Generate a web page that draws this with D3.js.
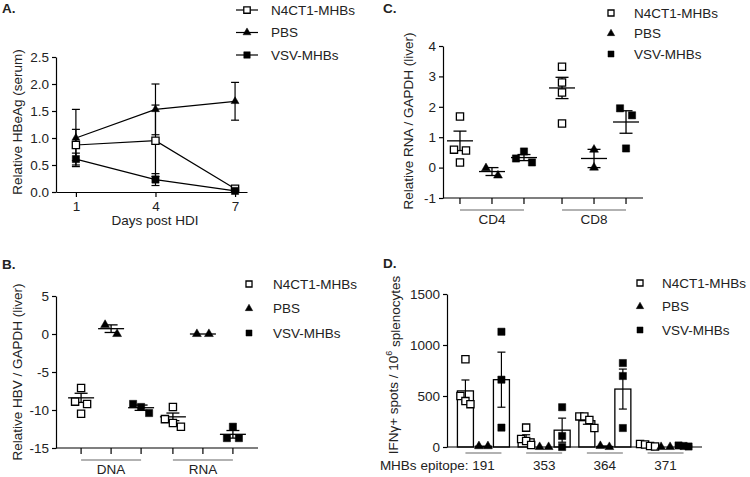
<!DOCTYPE html>
<html>
<head>
<meta charset="utf-8">
<script src="https://cdn.jsdelivr.net/npm/d3@7"></script>
<style>
body { margin: 0; background: #fff; }
text { font-family: "Liberation Sans", Arial, sans-serif; fill: #222; }
</style>
</head>
<body>
<svg id="fig" width="750" height="477"></svg>
<script>
var seriesNames = ["N4CT1-MHBs", "PBS", "VSV-MHBs"];

// A. serum HBeAg over time (mean, sem)
var hbeagDays = [1, 4, 7];
var hbeagN4ct1 = [0.87, 0.95, 0.06], hbeagN4ct1Sem = [0.29, 0.66, 0.03];
var hbeagPbs = [1.0, 1.53, 1.68], hbeagPbsSem = [0.53, 0.47, 0.35];
var hbeagVsv = [0.61, 0.23, 0.02], hbeagVsvSem = [0.11, 0.11, 0.02];
var hbeagTicks = [0, 0.5, 1.0, 1.5, 2.0, 2.5];

// B. liver HBV DNA / RNA
var hbvGroups = ["DNA", "RNA"];
var hbvN4ct1 = [[-7.1, -8.9, -9.2, -10.5], [-9.6, -11.2, -11.7, -12.2]];
var hbvPbs = [[1.2, 0.0], [0, 0]];
var hbvVsv = [[-9.2, -9.6, -10.4], [-12.2, -13.7, -13.7]];
var hbvMean = [[-8.4, -10.9], [0.7, 0], [-9.7, -13.2]];
var hbvSem = [[0.6, 0.5], [0.5, 0], [0.35, 0.5]];
var hbvTicks = [5, 0, -5, -10, -15];

// C. liver CD4 / CD8 RNA
var rnaGroups = ["CD4", "CD8"];
var rnaN4ct1 = [[1.68, 0.59, 0.56, 0.17], [3.32, 2.8, 2.47, 1.45]];
var rnaPbs = [[-0.02, -0.26], [0.59, 0.0]];
var rnaVsv = [[0.3, 0.53, 0.17], [1.95, 1.72, 0.63]];
var rnaMean = [[0.88, 2.62], [-0.13, 0.3], [0.33, 1.5]];
var rnaSem = [[0.32, 0.35], [0.13, 0.3], [0.1, 0.37]];
var rnaTicks = [-1, 0, 1, 2, 3, 4];

// D. IFNg ELISpot per epitope
var epitopes = ["191", "353", "364", "371"];
var ifnN4ct1 = [[860, 500, 450, 420], [190, 78, 59, 20], [300, 300, 265, 186], [30, 25, 10, 5]];
var ifnPbs = [[8, 8], [0, 0], [10, 0], [0, 0]];
var ifnVsv = [[1130, 660, 190], [390, 108, 0], [823, 696, 186], [15, 10, 5]];
var ifnMean = [[550, 80, 258, 18], [8, 0, 5, 0], [660, 165, 568, 10]];
var ifnSem = [[107, 40, 35, 6], [0, 0, 5, 0], [270, 118, 196, 3]];
var ifnTicks = [0, 500, 1000, 1500];

var svg = d3.select("#fig");
var FS = 13.5;
var hyphen = function(f) { return function(v) { return f(v).replace("\u2212", "-"); }; };

function sym(k, scale) {
    var area = [52, 34, 52][k] * (scale || 1);
    return d3.symbol().type(k === 1 ? d3.symbolTriangle : d3.symbolSquare).size(area)();
}
function marker(g, k, x, y, scale) {
    g.append("path")
        .attr("transform", "translate(" + x + "," + y + ")")
        .attr("d", sym(k, scale))
        .attr("fill", k === 0 ? "#fff" : "#000")
        .attr("stroke", "#000")
        .attr("stroke-width", k === 0 ? 1.3 : 0.5);
}

// spread points that overlap vertically, like a column scatter
function swarm(vals, y, step2, stepN, thr) {
    var idx = vals.map(function(v, i) { return i; })
        .sort(function(a, b) { return y(vals[a]) - y(vals[b]); });
    var clusters = [], cur = [idx[0]];
    for (var i = 1; i < idx.length; i++) {
        if (y(vals[idx[i]]) - y(vals[idx[i - 1]]) < thr) cur.push(idx[i]);
        else { clusters.push(cur); cur = [idx[i]]; }
    }
    clusters.push(cur);
    var off = vals.map(function() { return 0; });
    clusters.forEach(function(c) {
        var step = c.length === 2 ? step2 : stepN;
        c.sort(function(a, b) { return a - b; });
        c.forEach(function(i, j) { off[i] = (j - (c.length - 1) / 2) * step; });
    });
    return off;
}

function yAxis(g, y, x0, ticks, fmt) {
    var ax = g.append("g").attr("transform", "translate(" + x0 + ",0)")
        .call(d3.axisLeft(y).tickValues(ticks).tickFormat(fmt).tickSize(4).tickPadding(3).tickSizeOuter(0));
    ax.selectAll("text").attr("font-size", FS);
    ax.selectAll("path,line").attr("stroke", "#000").attr("stroke-width", 1.2);
    return ax;
}

function yLabel(x, y, txt) {
    return svg.append("text").attr("transform", "translate(" + x + "," + y + ") rotate(-90)")
        .attr("text-anchor", "middle").attr("dy", "0.35em").attr("font-size", FS).text(txt);
}

function panelLetter(x, y, t) {
    svg.append("text").attr("x", x).attr("y", y).attr("font-size", 13.5)
        .attr("font-weight", "bold").text(t);
}

function legend(x, y0, dy, tx, withLine, scale) {
    var g = svg.append("g");
    seriesNames.forEach(function(n, i) {
        var yy = y0 + i * dy;
        if (withLine) g.append("line").attr("x1", x - 11).attr("x2", x + 11)
            .attr("y1", yy).attr("y2", yy).attr("stroke", "#000").attr("stroke-width", 1.2);
        marker(g, i, x, yy, scale);
        g.append("text").attr("x", tx).attr("y", yy).attr("dy", "0.35em")
            .attr("font-size", FS).text(n);
    });
}

// ---------- Panel A ----------
(function() {
    var x = d3.scaleLinear().domain([0.25, 7.45]).range([56, 247]);
    var y = d3.scaleLinear().domain([0, 2.5]).range([192, 57]);
    var g = svg.append("g");
    yAxis(g, y, 56, hbeagTicks, d3.format(".1f"));
    var xa = g.append("g").attr("transform", "translate(0,192)")
        .call(d3.axisBottom(x).tickValues(hbeagDays).tickSize(5).tickPadding(4).tickSizeOuter(0));
    xa.selectAll("text").attr("font-size", FS);
    xa.selectAll("path,line").attr("stroke", "#000").attr("stroke-width", 1.2);
    g.append("text").attr("x", 155).attr("y", 225).attr("text-anchor", "middle")
        .attr("font-size", FS).text("Days post HDI");

    var means = [hbeagN4ct1, hbeagPbs, hbeagVsv];
    var sems = [hbeagN4ct1Sem, hbeagPbsSem, hbeagVsvSem];
    var line = d3.line().x(function(d, i) { return x(hbeagDays[i]); }).y(function(d) { return y(d); });
    means.forEach(function(m, k) {
        m.forEach(function(v, i) {
            var cx = x(hbeagDays[i]), lo = y(v - sems[k][i]), hi = y(v + sems[k][i]);
            g.append("line").attr("x1", cx).attr("x2", cx).attr("y1", lo).attr("y2", hi)
                .attr("stroke", "#000").attr("stroke-width", 1.2);
            [lo, hi].forEach(function(yy) {
                g.append("line").attr("x1", cx - 4).attr("x2", cx + 4).attr("y1", yy).attr("y2", yy)
                    .attr("stroke", "#000").attr("stroke-width", 1.2);
            });
        });
        g.append("path").datum(m).attr("d", line).attr("fill", "none")
            .attr("stroke", "#000").attr("stroke-width", 1.2);
    });
    means.forEach(function(m, k) {
        m.forEach(function(v, i) { marker(g, k, x(hbeagDays[i]), y(v), k === 1 ? 0.8 : 1); });
    });
    legend(247, 10, 22.5, 271, true, 0.8);
    yLabel(17, 122, "Relative HBeAg (serum)");
    panelLetter(2, 13, "A.");
})();

// scatter panel with mean +/- sem lines (B, C)
function scatterPanel(opt) {
    var g = svg.append("g");
    var y = d3.scaleLinear().domain(opt.ydom).range(opt.yr);
    var xo = d3.scalePoint().domain(opt.groups).range(opt.xr).padding(opt.pad);
    var xi = d3.scalePoint().domain(seriesNames).range([-opt.inner, opt.inner]);
    yAxis(g, y, opt.xr[0], opt.ticks, hyphen(d3.format("d")));
    var y0 = opt.yr[0];
    g.append("line").attr("x1", opt.xr[0]).attr("x2", opt.xr[1]).attr("y1", y0).attr("y2", y0)
        .attr("stroke", "#000").attr("stroke-width", 1.2);
    opt.groups.forEach(function(gr, gi) {
        seriesNames.forEach(function(s, k) {
            var cx = xo(gr) + xi(s);
            g.append("line").attr("x1", cx).attr("x2", cx).attr("y1", y0).attr("y2", y0 + 6)
                .attr("stroke", "#000").attr("stroke-width", 1.2);
            var m = opt.mean[k][gi], e = opt.sem[k][gi];
            g.append("line").attr("x1", cx - 13).attr("x2", cx + 13).attr("y1", y(m)).attr("y2", y(m))
                .attr("stroke", "#000").attr("stroke-width", 1.3);
            if (e > 0) {
                g.append("line").attr("x1", cx).attr("x2", cx).attr("y1", y(m - e)).attr("y2", y(m + e))
                    .attr("stroke", "#000").attr("stroke-width", 1.3);
                [m - e, m + e].forEach(function(v) {
                    g.append("line").attr("x1", cx - 6.5).attr("x2", cx + 6.5).attr("y1", y(v)).attr("y2", y(v))
                        .attr("stroke", "#000").attr("stroke-width", 1.3);
                });
            }
            var pts = opt.pts[k][gi];
            var off = swarm(pts, y, 12, 8, 9.5);
            pts.forEach(function(v, i) { marker(g, k, cx + off[i], y(v)); });
        });
        var a = xo(gr) + xi(seriesNames[0]), b = xo(gr) + xi(seriesNames[2]);
        g.append("line").attr("x1", a).attr("x2", b).attr("y1", y0 + 12).attr("y2", y0 + 12)
            .attr("stroke", "#666").attr("stroke-width", 1.2);
        g.append("text").attr("x", xo(gr)).attr("y", y0 + 26).attr("text-anchor", "middle")
            .attr("font-size", FS).text(gr);
    });
}

// ---------- Panel B ----------
scatterPanel({
    groups: hbvGroups, ydom: [-15, 5], yr: [448, 296], xr: [56, 258], pad: 0.6, inner: 30,
    ticks: hbvTicks, mean: hbvMean, sem: hbvSem, pts: [hbvN4ct1, hbvPbs, hbvVsv]
});
legend(249, 284, 24.5, 273, false, 0.7);
yLabel(17, 372, "Relative HBV / GAPDH (liver)");
panelLetter(2, 269, "B.");

// ---------- Panel C ----------
scatterPanel({
    groups: rnaGroups, ydom: [-1, 4], yr: [198, 46], xr: [443, 643], pad: 0.48, inner: 32,
    ticks: rnaTicks, mean: rnaMean, sem: rnaSem, pts: [rnaN4ct1, rnaPbs, rnaVsv]
});
legend(611, 13, 20.5, 634, false, 0.7);
yLabel(408, 121, "Relative RNA / GAPDH (liver)");
panelLetter(383, 13, "C.");

// ---------- Panel D ----------
(function() {
    var g = svg.append("g");
    var y = d3.scaleLinear().domain([0, 1500]).range([447, 294]);
    var xo = d3.scalePoint().domain(epitopes).range([447, 702]).padding(0.6);
    var xi = d3.scalePoint().domain(seriesNames).range([-18, 18]);
    yAxis(g, y, 447, ifnTicks, d3.format("d"));
    var bw = 16;
    var pts = [ifnN4ct1, ifnPbs, ifnVsv];
    epitopes.forEach(function(ep, gi) {
        seriesNames.forEach(function(s, k) {
            var cx = xo(ep) + xi(s), m = ifnMean[k][gi], e = ifnSem[k][gi];
            g.append("rect").attr("x", cx - bw / 2).attr("y", y(m)).attr("width", bw)
                .attr("height", y(0) - y(m)).attr("fill", "#fff").attr("stroke", "#000").attr("stroke-width", 1.3);
            if (e > 0) {
                g.append("line").attr("x1", cx).attr("x2", cx).attr("y1", y(Math.max(0, m - e))).attr("y2", y(m + e))
                    .attr("stroke", "#000").attr("stroke-width", 1.2);
                [m - e, m + e].forEach(function(v) {
                    if (v < 0) return;
                    g.append("line").attr("x1", cx - 4).attr("x2", cx + 4).attr("y1", y(v)).attr("y2", y(v))
                        .attr("stroke", "#000").attr("stroke-width", 1.2);
                });
            }
        });
    });
    g.append("line").attr("x1", 447).attr("x2", 702).attr("y1", 447).attr("y2", 447)
        .attr("stroke", "#000").attr("stroke-width", 1.2);
    epitopes.forEach(function(ep, gi) {
        seriesNames.forEach(function(s, k) {
            var cx = xo(ep) + xi(s), v = pts[k][gi];
            var off = swarm(v, y, 9, 5, 9.5);
            v.forEach(function(d, i) { marker(g, k, cx + off[i], y(d)); });
        });
        var a = xo(ep) + xi(seriesNames[0]), b = xo(ep) + xi(seriesNames[2]);
        g.append("line").attr("x1", a).attr("x2", b).attr("y1", 453).attr("y2", 453)
            .attr("stroke", "#666").attr("stroke-width", 1.2);
        g.append("text").attr("x", xo(ep)).attr("y", 470).attr("text-anchor", "middle")
            .attr("font-size", FS).text(ep);
    });
    g.append("text").attr("x", xo(epitopes[0]) - 15).attr("y", 470).attr("text-anchor", "end")
        .attr("font-size", FS).text("MHBs epitope:");
    legend(640, 283, 23.5, 662, false, 0.7);
    var lab = svg.append("text").attr("transform", "translate(393,365) rotate(-90)")
        .attr("text-anchor", "middle").attr("dy", "0.35em").attr("font-size", FS);
    lab.append("tspan").text("IFNγ+ spots / 10");
    lab.append("tspan").attr("font-size", 9).attr("dy", "-0.6em").text("6");
    lab.append("tspan").attr("dy", "0.6em").text(" splenocytes");
    panelLetter(383, 268, "D.");
})();
</script>
</body>
</html>
